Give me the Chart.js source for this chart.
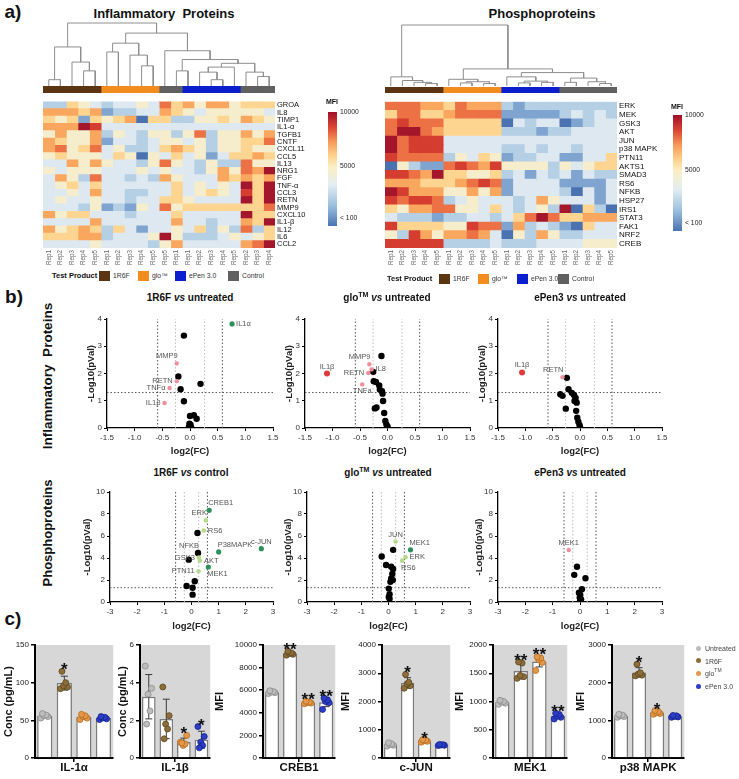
<!DOCTYPE html>
<html>
<head>
<meta charset="utf-8">
<title>Cytokine and phosphoprotein figure</title>
<script src="https://cdn.jsdelivr.net/npm/chart.js@4.4.1/dist/chart.umd.min.js"></script>
<style>
  html, body { margin: 0; padding: 0; background: #fff; }
  body { position: relative; width: 739px; height: 779px; overflow: hidden; font-family: 'Liberation Sans', Arial, sans-serif; }
  canvas { position: absolute; }
  .t { position: absolute; white-space: pre; line-height: 1; color: #111; }
  .sw { position: absolute; }
</style>
</head>
<body>
<script>
// ---------- panel a: heatmaps ----------
const inflRows = ['GROA','IL8','TIMP1','IL1-α','TGFB1','CNTF','CXCL11','CCL5','IL13','NRG1','FGF','TNF-α','CCL3','RETN','MMP9','CXCL10','IL1-β','IL12','IL6','CCL2'];
const inflCols = ['Rep1','Rep2','Rep3','Rep4','Rep5','Rep1','Rep2','Rep3','Rep4','Rep5','Rep5','Rep1','Rep1','Rep2','Rep3','Rep4','Rep5','Rep2','Rep3','Rep4'];
const inflGroups = ['1R6F','1R6F','1R6F','1R6F','1R6F','glo','glo','glo','glo','glo','Control','Control','ePen','ePen','ePen','ePen','ePen','Control','Control','Control'];
// colour level of each cell on the MFI scale: 0 (< 100) ... 9 (10000)
const inflLevels = [
  [2,2,5,4,3,2,3,3,4,3,7,5,6,4,6,6,4,5,5,5],
  [6,6,6,5,6,1,2,2,3,3,6,5,4,3,4,4,4,4,4,3],
  [5,4,5,1,5,4,5,6,0,5,5,2,2,4,4,5,4,6,5,4],
  [6,6,6,9,8,3,3,3,3,3,3,3,3,3,3,3,3,3,3,3],
  [4,6,4,4,6,2,4,3,2,4,4,2,4,7,2,4,4,6,4,6],
  [6,5,4,4,6,1,3,3,2,3,4,4,3,4,2,4,4,5,5,7],
  [6,7,4,5,7,3,4,2,2,3,5,6,5,4,2,4,4,5,4,4],
  [4,5,4,4,4,3,5,4,0,4,3,5,3,4,1,3,5,5,6,5],
  [3,3,6,4,6,4,3,3,2,4,7,4,3,2,4,2,2,7,4,4],
  [4,3,4,4,4,3,3,3,4,3,4,3,3,2,4,6,4,7,6,9],
  [3,6,4,2,7,3,3,2,3,2,6,4,3,3,3,6,5,6,5,6],
  [3,4,5,3,5,3,3,3,3,3,3,5,3,4,3,4,3,9,5,9],
  [3,3,4,3,6,3,3,2,2,3,3,5,3,4,5,4,3,8,5,9],
  [3,4,3,3,4,3,3,2,3,3,5,5,4,3,3,3,3,9,5,9],
  [3,3,3,2,4,1,2,1,4,3,7,4,5,5,5,5,5,5,5,7],
  [6,4,5,5,3,3,3,2,3,3,3,5,3,3,3,3,3,9,5,5],
  [3,3,3,3,6,3,3,3,3,3,3,6,3,3,2,3,3,6,5,9],
  [6,4,5,6,5,2,5,3,1,3,3,4,3,5,2,4,2,7,2,5],
  [5,5,5,6,6,2,3,3,3,4,9,4,2,2,2,3,4,3,4,5],
  [3,3,3,3,4,3,3,3,3,2,4,6,3,3,3,3,3,6,7,9]
];
// dendrogram merges [a, b, height]; a/b < 20 are columns, >= 20 are earlier merges
const inflTree = [
  [0,1,0.10],[3,4,0.24],[2,21,0.38],[20,22,0.62],
  [5,6,0.54],[8,9,0.32],[7,25,0.49],[24,26,0.68],
  [11,12,0.24],[14,15,0.10],[13,29,0.22],[16,30,0.30],[18,19,0.15],[17,32,0.22],[31,33,0.36],[28,34,0.42],[10,35,0.56],
  [27,36,0.84],[23,37,1.0]
];

const phosRows = ['ERK','MEK','GSK3','AKT','JUN','p38 MAPK','PTN11','AKTS1','SMAD3','RS6','NFKB','HSP27','IRS1','STAT3','FAK1','NRF2','CREB'];
const phosCols = ['Rep1','Rep2','Rep3','Rep4','Rep5','Rep1','Rep2','Rep3','Rep4','Rep5','Rep1','Rep2','Rep3','Rep4','Rep5','Rep1','Rep2','Rep3','Rep4','Rep5'];
const phosGroups = ['1R6F','1R6F','1R6F','1R6F','1R6F','glo','glo','glo','glo','glo','ePen','ePen','ePen','ePen','ePen','Control','Control','Control','Control','Control'];
const phosLevels = [
  [7,7,7,6,6,5,7,6,6,6,2,1,2,2,2,2,2,2,2,2],
  [5,7,7,5,5,6,7,7,7,7,1,1,1,1,1,2,3,2,3,2],
  [7,8,7,7,7,5,5,5,5,5,0,3,2,3,3,0,1,2,3,3],
  [7,9,9,7,6,5,5,5,5,5,2,2,2,1,2,2,3,3,3,3],
  [9,7,8,8,8,3,3,3,3,3,3,3,3,3,3,3,3,3,3,3],
  [9,7,8,8,8,3,3,3,3,3,2,2,3,2,3,3,2,3,3,3],
  [8,7,7,7,7,2,4,3,5,4,1,2,2,3,3,1,1,3,3,5],
  [0,4,2,1,1,7,8,7,6,8,4,4,4,4,2,4,3,4,5,5],
  [8,8,7,6,9,5,5,4,4,5,2,3,1,3,2,3,1,3,2,2],
  [6,6,6,5,5,5,6,7,8,7,1,3,3,3,3,1,1,1,1,3],
  [9,8,6,6,6,4,4,6,4,6,1,3,3,3,3,2,0,3,1,3],
  [8,7,8,8,7,2,3,4,3,3,3,2,3,6,4,3,3,3,1,3],
  [5,4,6,6,7,7,4,4,3,5,3,2,3,4,2,9,0,5,2,0],
  [3,2,2,2,1,2,2,3,3,2,3,5,7,9,7,5,5,6,6,6],
  [8,5,5,5,5,4,4,8,7,7,1,6,2,3,2,1,0,5,3,3],
  [4,2,8,6,4,6,6,7,6,3,0,4,2,6,4,2,2,3,3,3],
  [8,8,8,8,8,2,2,2,2,3,2,2,2,3,3,3,3,4,4,4]
];
const phosTree = [
  [3,4,0.04],[2,20,0.06],[1,21,0.09],[0,22,0.15],
  [6,7,0.05],[8,9,0.04],[24,25,0.07],[5,26,0.11],
  [11,12,0.05],[13,14,0.06],[28,29,0.08],[10,30,0.15],
  [15,16,0.06],[18,19,0.04],[17,33,0.07],[32,34,0.13],
  [31,35,0.22],[27,36,0.28],[23,37,1.0]
];
const colorbarTicks = [100, 5000, 10000];

// ---------- panel b: volcano plots (log2 FC, -log10 p) ----------
const fcCut = [-0.585, -0.263, 0.263, 0.585];
const pCut = 1.3;

const inflR6FNs = [[-0.11,3.39],[-0.21,1.89],[0.19,1.62],[-0.17,1.42],[-0.11,0.98],[0,0.44],[0.07,0.47],[0.12,0.34],[-0.01,0.16],[0,0.08],[0.02,0.02],[-0.02,0.04],[0.01,0.12]];
const inflR6FHits = [['MMP9',-0.24,2.37,'dn'],['RETN',-0.24,1.72,'dn'],['TNFα',-0.37,1.47,'dn'],['IL1β',-0.46,0.92,'dn'],['IL1α',0.76,3.82,'up2']];

const inflGloNs = [[-0.11,2.64],[-0.26,2.06],[-0.25,1.72],[-0.21,1.69],[-0.15,1.56],[-0.14,1.41],[-0.1,1.35],[-0.09,1.26],[-0.08,0.99],[-0.23,0.72],[-0.2,0.75],[-0.06,0.55],[-0.04,0.26],[-0.02,0.13],[0,0.06]];
const inflGloHits = [['IL1β',-1.1,2.0,'dn2'],['MMP9',-0.33,2.34,'dn'],['RETN',-0.35,2.02,'dn'],['IL8',-0.29,2.15,'dn'],['TNFa',-0.46,1.6,'dn']];

const inflEpenNs = [[-0.24,1.84],[-0.21,1.42],[-0.36,1.24],[-0.32,1.18],[-0.15,1.29],[-0.11,1.21],[-0.26,0.71],[-0.1,0.99],[-0.06,0.93],[-0.07,0.63],[-0.05,0.38],[-0.03,0.23],[-0.01,0.11],[0,0.04],[-0.08,1.1]];
const inflEpenHits = [['IL1β',-1.06,2.04,'dn2'],['RETN',-0.32,1.86,'dn']];

const phosR6FNs = [[0.22,6.27],[-0.1,3.85],[0.12,1.88],[-0.18,1.45],[0.04,1.3],[0.04,0.67]];
const phosR6FHits = [['CREB1',0.65,8.33,'up2'],['ERK',0.53,7.42,'up'],['RS6',0.45,6.5,'up'],['NFKB',0.24,4.45,'ns'],['P38MAPK',1.0,4.55,'up2'],['c-JUN',2.57,4.85,'up2'],['GSK3',0.27,4.05,'up'],['AKT',0.31,3.75,'up'],['MEK1',0.62,3.18,'up2'],['PTN11',0.26,2.79,'up']];

const phosGloNs = [[0.17,4.74],[-0.25,4.13],[-0.09,3.36],[0.1,3.2],[0.17,3.0],[0.14,2.54],[0.1,2.14],[0.16,1.99],[0.07,1.83],[0.01,1.22],[0.04,0.7],[0.01,0.46],[0.04,0.3]];
const phosGloHits = [['JUN',0.26,5.5,'up'],['MEK1',0.81,4.74,'up2'],['ERK',0.63,4.07,'up'],['RS6',0.5,3.76,'up']];

const phosEpenNs = [[-0.11,3.2],[-0.21,2.47],[0.2,2.16],[0.07,1.16],[-0.04,0.85],[0.01,0.64],[-0.01,0.4],[0.04,0.24],[0,0.1]];
const phosEpenHits = [['MEK1',-0.41,4.73,'dn']];

// ---------- panel c: bar charts, 5 replicates per group ----------
const barGroups = ['Untreated', '1R6F', 'glo™', 'ePen 3.0'];
const il1aDots = [[53,55,56,57,59],[92,94,96,100,115],[51,53,55,56,58],[51,52,53,54,55]];
const il1bDots = [[4.88,3.7,3.39,2.5,1.8],[3.77,2.25,1.8,1.54,1.02],[0.84,1.2,0.67,0.75,0.8],[1.67,1.14,0.84,0.67,0.54]];
const creb1Dots = [[5700,5780,5820,5880,5950],[9100,9180,9250,9300,9450],[4800,4860,4900,4950,5020],[4300,4900,5000,5150,5300]];
const cjunDots = [[420,450,480,500,540],[2470,2560,2620,2680,2960],[560,590,610,630,650],[440,450,460,470,480]];
const mek1Dots = [[950,970,990,1000,1020],[1410,1440,1460,1680,1700],[1550,1690,1740,1770,1790],[690,720,740,770,790]];
const p38Dots = [[1080,1100,1120,1140,1160],[2180,2200,2230,2260,2490],[1160,1180,1200,1230,1260],[1080,1090,1100,1120,1130]];
const il1aStars = ['', '*', '', ''];
const il1bStars = ['', '', '*', '*'];
const creb1Stars = ['', '**', '**', '**'];
const cjunStars = ['', '*', '*', ''];
const mek1Stars = ['', '**', '**', '**'];
const p38Stars = ['', '*', '*', ''];

// ---------- styles ----------
const FONT = "'Liberation Sans', Arial, sans-serif";
const groupColors = { '1R6F': '#5b3511', glo: '#f28c1e', ePen: '#0b1fcf', Control: '#606060' };
const heatPalette = ['#4a72b0','#7fa4cf','#b5cfe5','#dde8f0','#f5edcc','#fdd590','#f9a75f','#ec7145','#d43d2f','#a3162b'];
const cbStops = [[0,'#4a74b2'],[0.18,'#9cc1dd'],[0.36,'#e3edf2'],[0.52,'#fbeec4'],[0.62,'#fdd08a'],[0.74,'#f79a5a'],[0.86,'#dd4a33'],[1,'#a10f2a']];
const cbMin = -620;
const hitColors = { dn: '#f08f9c', dn2: '#e03a3c', up: '#b6da8c', up2: '#2d8f5c', ns: '#000' };
const hitRadius = { dn: 2.2, dn2: 3, up: 2.3, up2: 2.6, ns: 3.2 };
const dotFill = ['#bdbdbd', '#8d6e3b', '#e3984a', '#2b3cc6'];
const dotEdge = ['#8a8a8a', '#5c4520', '#b56b1f', '#16228a'];
const dotJitter = [-0.2, 0.16, -0.04, 0.07, -0.12];

Chart.defaults.font.family = FONT;
Chart.defaults.color = '#222';
Chart.defaults.animation = false;
Chart.defaults.responsive = false;
Chart.defaults.plugins.legend.display = false;
Chart.defaults.plugins.tooltip.enabled = false;

function addCanvas(x, y, w, h) {
  const c = document.createElement('canvas');
  c.width = w; c.height = h;
  c.style.left = x + 'px'; c.style.top = y + 'px';
  c.style.width = w + 'px'; c.style.height = h + 'px';
  document.body.appendChild(c);
  return c;
}

function addText(html, x, y, font, opt = {}) {
  const d = document.createElement('div');
  d.className = 't';
  d.innerHTML = html;
  d.style.font = font + ' ' + FONT;
  d.style.lineHeight = '1';
  d.style.left = x + 'px';
  d.style.top = y + 'px';
  const tx = opt.align === 'left' ? '0' : '-50%';
  d.style.transform = `translate(${tx}, -50%)` + (opt.rotate ? ' rotate(-90deg)' : '');
  if (opt.color) d.style.color = opt.color;
  document.body.appendChild(d);
}

function addSwatch(x, y, w, h, color, round) {
  const d = document.createElement('div');
  d.className = 'sw';
  Object.assign(d.style, { left: x + 'px', top: y + 'px', width: w + 'px', height: h + 'px', background: color });
  if (round) d.style.borderRadius = '50%';
  document.body.appendChild(d);
}

// ---------- heatmap pieces ----------
function drawDendrogram(x, y, w, h, tree, n) {
  const pos = [];
  for (let i = 0; i < n; i++) pos.push({ x: i + 0.5, h: 0 });
  const segs = [];
  tree.forEach(([a, b, ht]) => {
    const A = pos[a], B = pos[b];
    segs.push([{ x: A.x, y: A.h }, { x: A.x, y: ht }, { x: B.x, y: ht }, { x: B.x, y: B.h }]);
    pos.push({ x: (A.x + B.x) / 2, h: ht });
  });
  new Chart(addCanvas(x, y, w, h), {
    type: 'scatter',
    data: { datasets: segs.map(s => ({ data: s, showLine: true, borderColor: '#8e8e8e', borderWidth: 1, pointRadius: 0, clip: false })) },
    options: {
      layout: { padding: { top: 1 } },
      scales: { x: { display: false, min: 0, max: n }, y: { display: false, min: 0, max: 1 } }
    }
  });
}

function drawGroupBar(x, y, w, h, groups) {
  new Chart(addCanvas(x, y, w, h), {
    type: 'bar',
    data: {
      labels: ['group'],
      datasets: groups.map(g => ({ data: [1], backgroundColor: groupColors[g], borderWidth: 0, barPercentage: 1, categoryPercentage: 1, inflateAmount: 0.4 }))
    },
    options: {
      indexAxis: 'y',
      layout: { padding: 0 },
      scales: { x: { stacked: true, display: false, min: 0, max: groups.length }, y: { stacked: true, display: false } }
    }
  });
}

function drawHeatmap(x, y, rows, cols, levels, rowFont) {
  new Chart(addCanvas(x, y, 232 + 58, 153 + 22), {
    type: 'bar',
    data: {
      labels: rows,
      datasets: cols.map((c, j) => ({
        data: rows.map(() => 1),
        backgroundColor: rows.map((r, i) => heatPalette[levels[i][j]]),
        borderWidth: 0, barPercentage: 1, categoryPercentage: 1, inflateAmount: 0.5
      }))
    },
    options: {
      indexAxis: 'y',
      layout: { padding: 0 },
      scales: {
        x: { stacked: true, display: false, min: 0, max: cols.length },
        y: {
          stacked: true, position: 'right',
          grid: { display: false, drawTicks: false }, border: { display: false },
          ticks: { autoSkip: false, padding: 2, color: '#111', font: { size: rowFont } },
          afterFit: s => { s.width = 58; }
        },
        cols: {
          type: 'category', axis: 'x', labels: cols, position: 'bottom', offset: true,
          grid: { display: false, drawTicks: false }, border: { display: false },
          ticks: { autoSkip: false, minRotation: 90, maxRotation: 90, padding: 2, color: '#666', font: { size: 6.3 } },
          afterFit: s => { s.height = 22; }
        }
      }
    }
  });
}

function drawColorbar(x, y, h) {
  new Chart(addCanvas(x, y, 45, h), {
    type: 'bar',
    data: {
      labels: ['MFI'],
      datasets: [{
        data: [[cbMin, 10000]],
        backgroundColor: c => {
          const a = c.chart.chartArea;
          if (!a) return '#fff';
          const g = c.chart.ctx.createLinearGradient(0, a.bottom, 0, a.top);
          cbStops.forEach(([p, col]) => g.addColorStop(p, col));
          return g;
        },
        borderWidth: 0, barPercentage: 1, categoryPercentage: 1
      }]
    },
    options: {
      layout: { padding: { top: 5, bottom: 5 } },
      scales: {
        x: { display: false },
        y: {
          position: 'right', min: cbMin, max: 10000,
          afterBuildTicks: s => { s.ticks = colorbarTicks.map(v => ({ value: v })); },
          ticks: { callback: v => (v === 100 ? '< 100' : String(v)), font: { size: 6.8 }, color: '#222', padding: 3 },
          grid: { display: false, drawTicks: false }, border: { display: false },
          afterFit: s => { s.width = 36; }
        }
      }
    }
  });
}

// ---------- volcano ----------
const pointLabelPlugin = {
  id: 'pointLabels',
  afterDatasetsDraw(chart, args, opts) {
    const { ctx, scales: { x, y } } = chart;
    ctx.save();
    ctx.font = '7.5px ' + FONT;
    ctx.fillStyle = '#555';
    ctx.textBaseline = 'middle';
    opts.items.forEach(([name, vx, vy]) => {
      const side = opts.sides[name] || 'l';
      const px = x.getPixelForValue(vx), py = y.getPixelForValue(vy);
      let tx = px, ty = py, al = 'center';
      if (side === 'l') { tx = px - 4; al = 'right'; }
      else if (side === 'r') { tx = px + 4; al = 'left'; }
      else if (side === 'u') { ty = py - 7; }
      else if (side === 'd') { ty = py + 7; }
      else if (side === 'ul') { tx = px + 1; ty = py - 7; al = 'right'; }
      else if (side === 'ur') { tx = px - 1; ty = py - 7; al = 'left'; }
      else if (side === 'dr') { tx = px - 1; ty = py + 7; al = 'left'; }
      ctx.textAlign = al;
      ctx.fillText(name, tx, ty);
    });
    ctx.restore();
  }
};

function axisStyle() {
  return {
    grid: { display: true, drawOnChartArea: false, tickLength: 3, color: '#000', lineWidth: 1 },
    border: { color: '#000', width: 1.3 }
  };
}

function drawVolcano(o) {
  const datasets = fcCut.map(t => ({
    data: [{ x: t, y: 0 }, { x: t, y: o.yMax }],
    showLine: true, pointRadius: 0, borderWidth: 1, borderDash: [1.5, 2],
    borderColor: Math.abs(t) > 0.4 ? '#555' : '#bdbdbd', order: 3
  }));
  datasets.push({
    data: [{ x: o.xMin, y: pCut }, { x: o.xMax, y: pCut }],
    showLine: true, pointRadius: 0, borderWidth: 1, borderDash: [1.5, 2], borderColor: '#555', order: 3
  });
  datasets.push({ data: o.ns.map(([x, y]) => ({ x, y })), pointRadius: 3.2, backgroundColor: '#000', borderWidth: 0, order: 1 });
  datasets.push({
    data: o.hits.map(h => ({ x: h[1], y: h[2] })),
    pointRadius: o.hits.map(h => hitRadius[h[3]]),
    backgroundColor: o.hits.map(h => hitColors[h[3]]),
    borderWidth: 0, order: 0
  });
  new Chart(addCanvas(o.left, o.top, o.w, o.h), {
    type: 'scatter',
    data: { datasets },
    options: {
      layout: { padding: { top: 7, right: 8 } },
      scales: {
        x: {
          min: o.xMin, max: o.xMax, ...axisStyle(),
          ticks: { stepSize: o.xStep, callback: o.xFmt, font: { size: 8 }, color: '#333', padding: 2, maxRotation: 0 },
          title: { display: true, text: 'log2(FC)', font: { size: 9.5, weight: 'bold' }, color: '#222', padding: { top: 1, bottom: 4 } },
          afterFit: s => { s.height = o.xH; }
        },
        y: {
          min: 0, max: o.yMax, ...axisStyle(),
          ticks: { stepSize: o.yStep, callback: v => String(v), font: { size: 8 }, color: '#333', padding: 2 },
          title: { display: true, text: '-Log10(pVal)', font: { size: 9.5, weight: 'bold' }, color: '#222', padding: { top: 2, bottom: 1 } },
          afterFit: s => { s.width = o.yW; }
        }
      },
      plugins: { pointLabels: { items: o.hits, sides: o.sides } }
    },
    plugins: [pointLabelPlugin]
  });
}

// ---------- bars ----------
const barExtrasPlugin = {
  id: 'barExtras',
  beforeDraw(chart) {
    const { ctx, chartArea: a } = chart;
    ctx.save();
    ctx.fillStyle = '#d7d7d7';
    ctx.fillRect(a.left, a.top, a.right - a.left, a.bottom - a.top);
    ctx.restore();
  },
  afterDatasetDraw(chart, args, opts) {
    if (chart.data.datasets[args.index].type !== 'bar') return;
    const { ctx, scales: { x, y } } = chart;
    ctx.save();
    ctx.strokeStyle = '#3a3a3a';
    ctx.lineWidth = 1;
    opts.means.forEach((m, i) => {
      const px = x.getPixelForValue(i);
      const top = y.getPixelForValue(m + opts.sds[i]);
      const bot = y.getPixelForValue(Math.max(0, m - opts.sds[i]));
      ctx.beginPath();
      ctx.moveTo(px, top); ctx.lineTo(px, bot);
      ctx.moveTo(px - 3.5, top); ctx.lineTo(px + 3.5, top);
      ctx.moveTo(px - 3.5, bot); ctx.lineTo(px + 3.5, bot);
      ctx.stroke();
    });
    ctx.restore();
  },
  afterDatasetsDraw(chart, args, opts) {
    const { ctx, scales: { x, y } } = chart;
    ctx.save();
    ctx.fillStyle = '#111';
    ctx.font = 'bold 17px ' + FONT;
    ctx.textAlign = 'center';
    ctx.textBaseline = 'alphabetic';
    opts.stars.forEach((s, i) => {
      if (!s) return;
      const top = Math.max(Math.max(...opts.dots[i]), opts.means[i] + opts.sds[i]);
      ctx.fillText(s, x.getPixelForValue(i), y.getPixelForValue(top) + 4);
    });
    ctx.restore();
  }
};

function drawBars(o) {
  const means = o.dots.map(d => d.reduce((a, b) => a + b, 0) / d.length);
  const sds = o.dots.map((d, i) => Math.sqrt(d.reduce((a, v) => a + (v - means[i]) ** 2, 0) / (d.length - 1)));
  const datasets = [{
    type: 'bar',
    data: means.map((m, i) => ({ x: i, y: m })),
    backgroundColor: '#fff', borderColor: '#7c7c7c', borderWidth: 1.5,
    barPercentage: 0.78, categoryPercentage: 1, order: 2
  }].concat(o.dots.map((vals, i) => ({
    type: 'scatter',
    data: vals.map((v, k) => ({ x: i + dotJitter[k], y: v })),
    pointRadius: 3, backgroundColor: dotFill[i], borderColor: dotEdge[i], borderWidth: 0.8, order: 0
  })));
  new Chart(addCanvas(o.left, 636, o.w, 143), {
    type: 'bar',
    data: { datasets },
    options: {
      layout: { padding: { top: 9, right: 2 } },
      scales: {
        x: {
          type: 'linear', min: -0.5, max: 3.5, offset: false,
          afterBuildTicks: s => { s.ticks = [{ value: 1.5 }]; },
          ticks: { callback: () => '' },
          grid: { display: true, drawOnChartArea: false, tickLength: 4, color: '#000', lineWidth: 1.5, offset: false },
          border: { color: '#000', width: 2 },
          title: { display: true, text: o.xTitle, font: { size: 11.5, weight: 'bold' }, color: '#111', padding: { top: 0, bottom: 4 } },
          afterFit: s => { s.height = 21; }
        },
        y: {
          min: 0, max: o.max,
          ticks: { stepSize: o.step, callback: v => String(v), font: { size: 8 }, color: '#222', padding: 2 },
          grid: { display: true, drawOnChartArea: false, tickLength: 4, color: '#000', lineWidth: 1.5 },
          border: { color: '#000', width: 2 },
          title: { display: true, text: o.yTitle, font: { size: 11, weight: 'bold' }, color: '#111', padding: { top: 2, bottom: 2 } },
          afterFit: s => { s.width = o.yW; }
        }
      },
      plugins: { barExtras: { means, sds, dots: o.dots, stars: o.stars } }
    },
    plugins: [barExtrasPlugin]
  });
}

// ---------- build panel a ----------
addText('a)', 13, 10.5, 'bold 19px');
addText('Inflammatory  Proteins', 164, 12.5, 'bold 13px');
addText('Phosphoproteins', 542, 12.5, 'bold 13px');

drawDendrogram(43, 22, 232, 64, inflTree, inflCols.length);
drawGroupBar(43, 86, 232, 7, inflGroups);
drawHeatmap(43, 95, inflRows, inflCols, inflLevels, 7.5);
addText('MFI', 332, 101, 'bold 7px');
drawColorbar(328, 105, 128);

drawDendrogram(385, 24, 232, 62, phosTree, phosCols.length);
drawGroupBar(385, 87, 232, 6, phosGroups);
drawHeatmap(385, 95, phosRows, phosCols, phosLevels, 8);
addText('MFI', 677, 106, 'bold 7px');
drawColorbar(673, 108, 130);

function heatLegend(x0, y, xs) {
  addText('Test Product', x0, y, 'bold 7.5px', { align: 'left' });
  const items = [['1R6F', '1R6F'], ['glo', 'glo™'], ['ePen', 'ePen 3.0'], ['Control', 'Control']];
  items.forEach(([g, name], i) => {
    addSwatch(xs[i], y - 5, 11, 10, groupColors[g]);
    addText(name, xs[i] + 14, y, '6.8px', { align: 'left', color: '#333' });
  });
}
heatLegend(52, 276, [99, 138, 175, 228]);
heatLegend(387, 279, [439, 478, 517, 558]);

// ---------- build panel b ----------
addText('b)', 14, 295.5, 'bold 19px');
addText('Inflammatory  Proteins', 48, 376, 'bold 13.5px', { rotate: true });
addText('Phosphoproteins', 47, 533, 'bold 13px', { rotate: true });

const sup = '<sup style="font-size:7px;line-height:0">TM</sup>';
addText('1R6F <i>vs</i> untreated', 190, 298, 'bold 10px');
addText('glo' + sup + ' <i>vs</i> untreated', 387, 298, 'bold 10px');
addText('ePen3 <i>vs</i> untreated', 580, 298, 'bold 10px');
addText('1R6F <i>vs</i> control', 191, 473, 'bold 10px');
addText('glo' + sup + ' <i>vs</i> untreated', 388, 473, 'bold 10px');
addText('ePen3 <i>vs</i> untreated', 580, 473, 'bold 10px');

const fmt1 = v => v.toFixed(1);
const fmt0 = v => String(Math.round(v));
const row1 = { top: 312, h: 149, xH: 33, xMin: -1.5, xMax: 1.5, xStep: 0.5, xFmt: fmt1, yMax: 4, yStep: 1 };
const row2 = { top: 485, h: 151, xH: 34, xMin: -3, xMax: 3, xStep: 1, xFmt: fmt0, yMax: 10, yStep: 2 };

drawVolcano({ ...row1, left: 84, w: 197, yW: 23, ns: inflR6FNs, hits: inflR6FHits,
  sides: { MMP9: 'ul', RETN: 'l', 'TNFα': 'l', 'IL1β': 'l', 'IL1α': 'r' } });
drawVolcano({ ...row1, left: 282, w: 196, yW: 23, ns: inflGloNs, hits: inflGloHits,
  sides: { 'IL1β': 'u', MMP9: 'ul', RETN: 'l', IL8: 'r', TNFa: 'd' } });
drawVolcano({ ...row1, left: 475, w: 195, yW: 23, ns: inflEpenNs, hits: inflEpenHits,
  sides: { 'IL1β': 'u', RETN: 'ul' } });

drawVolcano({ ...row2, left: 80, w: 201, yW: 30, ns: phosR6FNs, hits: phosR6FHits,
  sides: { CREB1: 'ur', ERK: 'ul', RS6: 'r', NFKB: 'ul', P38MAPK: 'ur', 'c-JUN': 'u', GSK3: 'l', AKT: 'r', MEK1: 'dr', PTN11: 'l' } });
drawVolcano({ ...row2, left: 281, w: 197, yW: 26, ns: phosGloNs, hits: phosGloHits,
  sides: { JUN: 'u', MEK1: 'ur', ERK: 'r', RS6: 'dr' } });
drawVolcano({ ...row2, left: 472, w: 198, yW: 26, ns: phosEpenNs, hits: phosEpenHits,
  sides: { MEK1: 'u' } });

// ---------- build panel c ----------
addText('c)', 13, 618, 'bold 19px');
drawBars({ left: 0, w: 118, yW: 35, dots: il1aDots, stars: il1aStars, max: 150, step: 50, yTitle: 'Conc (pg/mL)', xTitle: 'IL-1α' });
drawBars({ left: 114, w: 101, yW: 26, dots: il1bDots, stars: il1bStars, max: 6, step: 2, yTitle: 'Conc (pg/mL)', xTitle: 'IL-1β' });
drawBars({ left: 211, w: 129, yW: 52, dots: creb1Dots, stars: creb1Stars, max: 10000, step: 2000, yTitle: 'MFI', xTitle: 'CREB1' });
drawBars({ left: 337, w: 118, yW: 45, dots: cjunDots, stars: cjunStars, max: 4000, step: 1000, yTitle: 'MFI', xTitle: 'c-JUN' });
drawBars({ left: 451, w: 121, yW: 42, dots: mek1Dots, stars: mek1Stars, max: 2000, step: 500, yTitle: 'MFI', xTitle: 'MEK1' });
drawBars({ left: 572, w: 117, yW: 40, dots: p38Dots, stars: p38Stars, max: 3000, step: 1000, yTitle: 'MFI', xTitle: 'p38 MAPK' });

const legendNames = ['Untreated', '1R6F', 'glo<sup style="font-size:5px;line-height:0">TM</sup>', 'ePen 3.0'];
barGroups.forEach((g, i) => {
  const y = 648 + i * 12.7;
  addSwatch(695.5, y - 2.5, 5, 5, dotFill[i], true);
  addText(legendNames[i], 705, y, '7px', { align: 'left', color: '#444' });
});
</script>
</body>
</html>
